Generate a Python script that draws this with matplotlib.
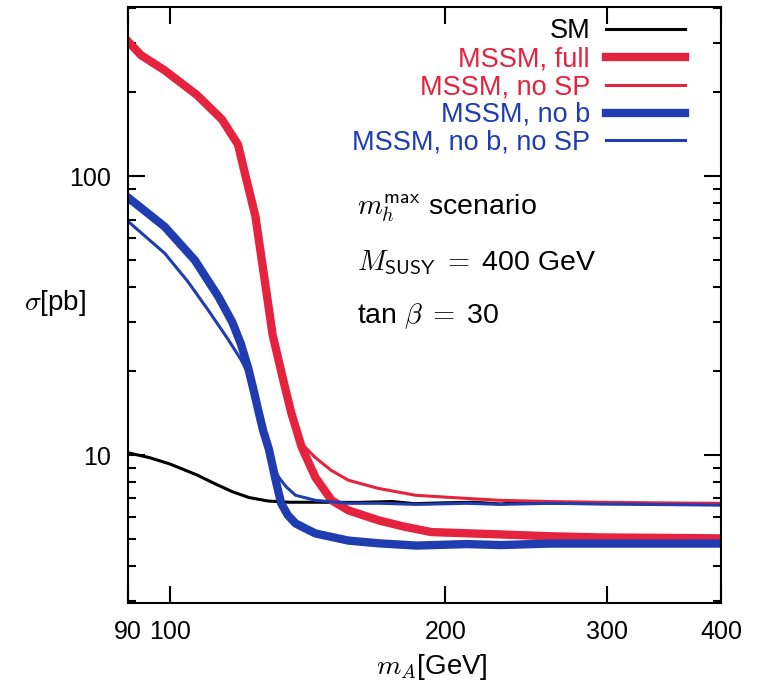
import matplotlib
matplotlib.use("Agg")
import matplotlib.pyplot as plt
from matplotlib.ticker import FixedLocator, LogLocator, NullFormatter

plt.rcParams["font.family"] = ["Liberation Sans", "DejaVu Sans"]
plt.rcParams["mathtext.fontset"] = "cm"

RED = "#e6233f"
BLUE = "#1f3db0"

# cross sections in pb against m_A in GeV
sm_ma = [90, 95, 100, 107, 112, 117, 122, 128, 135, 145, 160, 175, 185, 200, 215, 230, 240, 260, 300, 350, 400]
sm_sigma = [10.2, 9.8, 9.3, 8.5, 7.9, 7.4, 7.05, 6.85, 6.78, 6.78, 6.77, 6.82, 6.7, 6.75, 6.78, 6.68, 6.78, 6.72, 6.7, 6.68, 6.65]

full_ma = [90, 93, 98.7, 107, 114, 118.7, 121, 124, 127, 129.5, 133, 135.7, 139.3, 144.2, 150.2,
           156.7, 169, 180, 193, 210, 229, 260, 295, 350, 400]
full_sigma = [305, 272, 240, 196, 160, 130, 100, 72, 42, 27, 18.6, 14.2, 10.7, 8.33, 6.89,
              6.34, 5.84, 5.55, 5.3, 5.25, 5.2, 5.12, 5.07, 5.05, 5.03]

nosp_ma = [90, 93, 98.7, 107, 114, 118.7, 121, 124, 127, 129.5, 133, 135.7, 139.3, 144.2, 150,
           156.7, 169, 185.6, 210.7, 229, 260, 295, 350, 400]
nosp_sigma = [305, 272, 240, 196, 160, 130, 100, 72, 42, 27, 18.6, 14.2, 11.0, 9.8, 8.83,
              8.13, 7.6, 7.18, 7.0, 6.89, 6.82, 6.78, 6.74, 6.72]

nob_ma = [90, 98.7, 106.5, 113, 117, 119.6, 121.8, 123.5, 124.9, 126.4, 128.3, 130.5, 132.3, 134.5,
          137.2, 144.2, 156.7, 169, 186, 211, 230, 260, 300, 400]
nob_sigma = [84, 66, 50, 37, 30, 25, 20.5, 17, 14.5, 12.3, 10.5, 8.13, 6.72, 6.1,
             5.69, 5.24, 4.94, 4.83, 4.74, 4.8, 4.76, 4.82, 4.82, 4.82]

nobnosp_ma = [90, 98.7, 104.6, 110, 115.8, 119.6, 121.8, 123.5, 124.9, 126.4, 128.3, 130, 131.5, 134,
              137.2, 144.2, 156.7, 170, 186, 211, 230, 260, 300, 400]
nobnosp_sigma = [69, 53, 42, 33.3, 26, 22.0, 19.6, 17, 14.5, 12.3, 10.5, 9.0, 8.33, 7.7,
                 7.18, 6.89, 6.72, 6.72, 6.66, 6.72, 6.66, 6.72, 6.68, 6.62]

x_ticks = [90, 100, 200, 300, 400]

fig = plt.figure(figsize=(7.64, 6.84), dpi=100)
ax = fig.add_axes([0.1675, 0.1184, 0.7762, 0.8714])

ax.plot(sm_ma, sm_sigma, color="black", lw=2.2, label="SM")
ax.plot(full_ma, full_sigma, color=RED, lw=6, label="MSSM, full")
ax.plot(nosp_ma, nosp_sigma, color=RED, lw=2.2, label="MSSM, no SP")
ax.plot(nob_ma, nob_sigma, color=BLUE, lw=6, label="MSSM, no b")
ax.plot(nobnosp_ma, nobnosp_sigma, color=BLUE, lw=2.2, label="MSSM, no b, no SP")

ax.set_xscale("log")
ax.set_yscale("log")
ax.set_xlim(90, 400)
ax.set_ylim(2.95, 405)

ax.xaxis.set_major_locator(FixedLocator(x_ticks))
ax.xaxis.set_minor_locator(FixedLocator([]))
ax.set_xticklabels([str(t) for t in x_ticks])
ax.yaxis.set_major_locator(FixedLocator([10, 100]))
ax.yaxis.set_minor_locator(LogLocator(base=10, subs=range(2, 10)))
ax.yaxis.set_minor_formatter(NullFormatter())
ax.set_yticklabels(["10", "100"])

ax.tick_params(which="both", direction="in", top=True, right=True, width=1.5, labelsize=18)
ax.tick_params(which="major", length=12)
ax.tick_params(which="minor", length=6)
ax.tick_params(axis="x", pad=12)
ax.tick_params(axis="y", pad=12)
for spine in ax.spines.values():
    spine.set_linewidth(1.5)

leg = ax.legend(loc="upper right", bbox_to_anchor=(0.939, 0.981), frameon=False,
                markerfirst=False, fontsize=19.5, handlelength=2.9, handletextpad=0.6,
                labelspacing=0.07, borderpad=0, borderaxespad=0,
                labelcolor=["black", RED, RED, BLUE, BLUE])

ax.text(0.386, 0.651, r"$m_h^{\mathsf{max}}$ scenario", transform=ax.transAxes,
        fontsize=20.5, va="baseline")
ax.text(0.386, 0.559, r"$M_{\mathsf{SUSY}}\;=\;$400 GeV", transform=ax.transAxes,
        fontsize=20.5, va="baseline")
ax.text(0.386, 0.470, r"tan $\beta\;=\;$30", transform=ax.transAxes,
        fontsize=20.5, va="baseline")

fig.text(0.072, 0.557, r"$\sigma$[pb]", fontsize=20, ha="center", va="center")
fig.text(0.565, 0.025, r"$m_A$[GeV]", fontsize=20, ha="center", va="center")

fig.savefig("out.png", dpi=100)
